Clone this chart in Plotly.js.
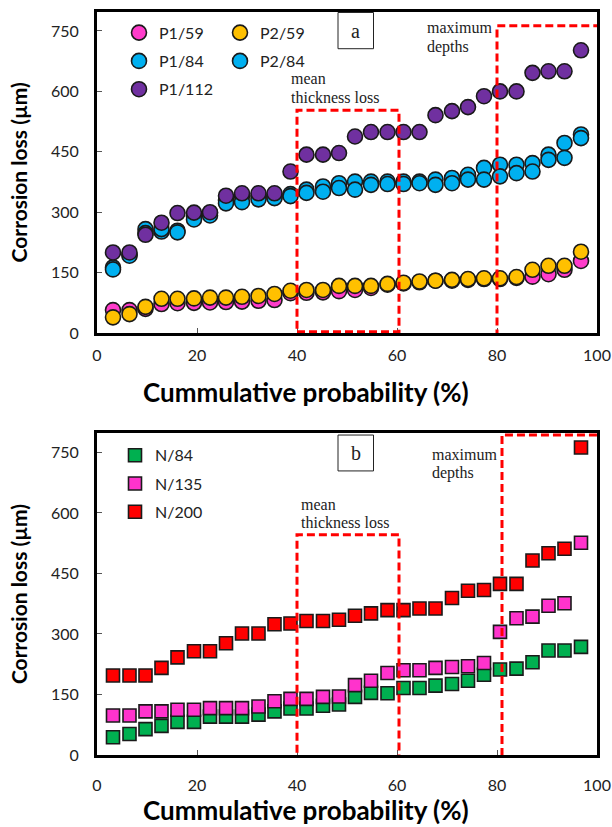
<!DOCTYPE html>
<html><head><meta charset="utf-8">
<script src="https://cdn.plot.ly/plotly-3.0.1.min.js"></script>
<style>html,body{margin:0;padding:0;background:#fff}#chart{width:612px;height:827px}</style>
</head><body><div id="chart"></div>
<script>
// Cumulative probability (%) of each ranked measurement
const prob = [3.2, 6.5, 9.7, 12.9, 16.1, 19.4, 22.6, 25.8, 29.0, 32.3, 35.5, 38.7, 41.9, 45.2, 48.4,
              51.6, 54.8, 58.1, 61.3, 64.5, 67.7, 71.0, 74.2, 77.4, 80.6, 83.9, 87.1, 90.3, 93.5, 96.8];

// Panel a - corrosion loss (µm)
const p1_59  = [57, 57, 60, 72, 74, 75, 76, 77, 78, 80, 82, 99, 100, 101, 104, 107, 112, 120, 123, 126, 130, 130, 132, 134, 134, 137, 140, 146, 157, 179];
const p2_59  = [39, 47, 65, 85, 85, 86, 88, 88, 90, 92, 97, 105, 107, 107, 117, 117, 117, 122, 125, 128, 130, 132, 134, 136, 136, 139, 157, 167, 167, 202];
const p1_84  = [163, 195, 258, 252, 254, 290, 298, 330, 340, 340, 338, 345, 356, 364, 372, 376, 376, 376, 376, 376, 381, 385, 393, 410, 418, 418, 422, 443, 472, 493];
const p2_84  = [158, 192, 248, 258, 250, 282, 292, 322, 325, 332, 335, 340, 348, 351, 360, 356, 368, 370, 370, 372, 368, 372, 381, 381, 389, 397, 401, 430, 435, 484];
const p1_112 = [200, 200, 244, 274, 298, 299, 300, 341, 347, 347, 347, 401, 443, 443, 447, 488, 499, 499, 499, 499, 541, 551, 561, 588, 600, 600, 646, 650, 650, 702];

// Panel b - corrosion loss (µm)
const n_84  = [44, 52, 64, 72, 82, 82, 95, 95, 95, 100, 108, 115, 115, 122, 125, 144, 154, 153, 166, 166, 172, 176, 184, 199, 212, 214, 230, 259, 259, 268];
const n_135 = [98, 98, 108, 108, 112, 112, 116, 116, 116, 120, 133, 139, 139, 144, 145, 173, 184, 203, 210, 210, 216, 218, 220, 228, 305, 339, 343, 370, 376, 526];
const n_200 = [197, 197, 197, 216, 242, 257, 257, 277, 301, 301, 324, 326, 332, 332, 335, 345, 351, 359, 359, 363, 363, 389, 407, 409, 424, 424, 482, 500, 511, 762];

const xTicks = [0, 20, 40, 60, 80, 100];
const yTicks = [0, 150, 300, 450, 600, 750];
const X_TITLE = 'Cummulative probability (%)';
const Y_TITLE = 'Corrosion loss (µm)';

const SANS = 'Lato, "Open Sans", sans-serif';
const SERIF = '"Liberation Serif", "DejaVu Serif", serif';
const EDGE = '#1a1a1a';

function circ(name, y, color, legend) {
  return {type: 'scatter', mode: 'markers', name: name, x: prob, y: y,
    xaxis: 'x', yaxis: 'y', legend: legend, legendgroup: name,
    marker: {symbol: 'circle', size: 15, color: color, line: {color: EDGE, width: 1.6}}};
}
function sq(name, y, color) {
  return {type: 'scatter', mode: 'markers', name: name, x: prob, y: y,
    xaxis: 'x2', yaxis: 'y2', legend: 'legend3', legendgroup: name,
    marker: {symbol: 'square', size: 13, color: color, line: {color: EDGE, width: 1.6}}};
}

const data = [
  circ('P1/59', p1_59, '#FF3CCB', 'legend'),
  circ('P2/59', p2_59, '#FFC000', 'legend2'),
  circ('P1/84', p1_84, '#00B0F0', 'legend'),
  circ('P2/84', p2_84, '#00B0F0', 'legend2'),
  circ('P1/112', p1_112, '#7030A0', 'legend'),
  sq('N/84', n_84, '#00B050'),
  sq('N/135', n_135, '#FF33CC'),
  sq('N/200', n_200, '#FF0000')
];

function xax(anchor, lblStand) {
  return {anchor: anchor, domain: [0, 1], range: [0, 100], tickvals: xTicks,
    ticks: 'inside', ticklen: 5, tickwidth: 1, tickcolor: '#555',
    showline: true, mirror: true, linewidth: 3, linecolor: '#000',
    showgrid: false, zeroline: false, ticklabelstandoff: lblStand,
    tickfont: {family: SANS, size: 16, color: '#222'}};
}
function yax(anchor, domain) {
  return {anchor: anchor, domain: domain, range: [0, 798], tickvals: yTicks,
    ticks: 'inside', ticklen: 5, tickwidth: 1, tickcolor: '#555',
    showline: true, mirror: true, linewidth: 3, linecolor: '#000',
    showgrid: false, zeroline: false, ticklabelstandoff: 12,
    tickfont: {family: SANS, size: 16, color: '#222'},
    title: {text: Y_TITLE, standoff: 18,
      font: {family: SANS, size: 21, color: '#000', weight: 'bold'}}};
}

const RED = {color: '#FF0000', width: 3, dash: '8px,4px'};
function rect(xr, yr, x0, x1, y0, y1) {
  return {type: 'rect', xref: xr, yref: yr, x0: x0, x1: x1, y0: y0, y1: y1, line: RED, layer: 'above'};
}
function labelBox(xr, yr, y0, y1) {
  return {type: 'rect', xref: xr, yref: yr, x0: 48.2, x1: 55.3, y0: y0, y1: y1,
    line: {color: '#222', width: 1}, fillcolor: '#fff', layer: 'above'};
}
function txt(xr, yr, x, y, t, size, anchor) {
  return {xref: xr, yref: yr, x: x, y: y, text: t, showarrow: false, xanchor: anchor || 'left',
    yanchor: 'middle', align: 'left', font: {family: SERIF, size: size, color: '#222'}};
}
// x-axis titles: centred on the whole figure width, as in the original
function xTitle(y) {
  return {xref: 'paper', yref: 'paper', x: 0.418, y: y, text: X_TITLE, showarrow: false,
    xanchor: 'center', yanchor: 'middle', font: {family: SANS, size: 26, color: '#000', weight: 'bold'}};
}

const legendBase = {
  bgcolor: 'rgba(0,0,0,0)', borderwidth: 0, xanchor: 'left', yanchor: 'top',
  orientation: 'v', tracegroupgap: 4.5, itemsizing: 'trace', itemwidth: 30,
  font: {family: SANS, size: 16, color: '#222'}
};

const layout = {
  width: 612, height: 827,
  margin: {l: 97, r: 15, t: 0, b: 0},
  paper_bgcolor: '#fff', plot_bgcolor: '#fff',
  showlegend: true,
  xaxis: xax('y', 6),
  yaxis: yax('x', [0.5973, 0.9859]),
  xaxis2: xax('y2', 14),
  yaxis2: yax('x2', [0.0871, 0.4764]),
  legend: Object.assign({}, legendBase, {x: 0.044, y: 0.981}),
  legend2: Object.assign({}, legendBase, {x: 0.246, y: 0.981}),
  legend3: Object.assign({}, legendBase, {x: 0.036, y: 0.470}),
  shapes: [
    rect('x', 'y', 40, 60.4, 3, 553),
    rect('x', 'y', 80, 100.3, -5, 763),
    labelBox('x', 'y', 706, 796),
    rect('x2', 'y2', 40, 60.4, -4, 546),
    rect('x2', 'y2', 81, 100.3, -5, 793),
    labelBox('x2', 'y2', 704, 793)
  ],
  annotations: [
    xTitle(0.5256),
    xTitle(0.0206),
    txt('x', 'y', 51.75, 751, 'a', 20, 'center'),
    txt('x', 'y', 65.6, 758, 'maximum', 16),
    txt('x', 'y', 65.6, 711, 'depths', 16),
    txt('x', 'y', 38.4, 631, 'mean', 16),
    txt('x', 'y', 38.4, 586, 'thickness loss', 16),
    txt('x2', 'y2', 51.75, 748, 'b', 20, 'center'),
    txt('x2', 'y2', 66.6, 744, 'maximum', 16),
    txt('x2', 'y2', 66.6, 699, 'depths', 16),
    txt('x2', 'y2', 40.4, 620, 'mean', 16),
    txt('x2', 'y2', 40.4, 575, 'thickness loss', 16)
  ]
};

Plotly.newPlot('chart', data, layout, {staticPlot: true, displayModeBar: false});
</script>
</body></html>
